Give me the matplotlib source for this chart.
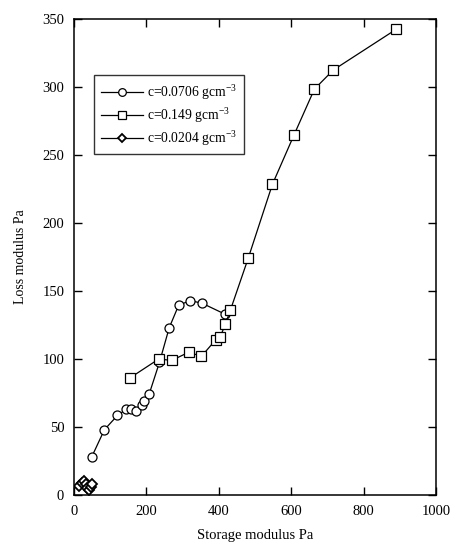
import matplotlib
matplotlib.use("Agg")
import matplotlib.pyplot as plt

plt.rcParams['font.family'] = ['Liberation Serif', 'DejaVu Serif']
plt.rcParams['mathtext.fontset'] = 'custom'
plt.rcParams['mathtext.rm'] = 'Liberation Serif'

# c = 0.0706 g/cm3
x_c1 = [49, 84, 120, 144, 158, 170, 187, 194, 208, 236, 263, 289, 321, 354, 417]
y_c1 = [28, 48, 58.5, 63, 63.5, 62, 66, 69.5, 74.5, 97.5, 123, 139.5, 143, 141, 133]

# c = 0.149 g/cm3
x_c2 = [154, 234, 270, 317, 352, 391, 404, 418, 432, 481, 548, 608, 664, 716, 890]
y_c2 = [86, 100, 99, 105, 102, 114, 116.5, 125.5, 136, 174, 228.5, 265, 298.5, 312.5, 342.5]

# c = 0.0204 g/cm3
x_c3 = [15, 22, 28, 33, 37, 41, 46, 49]
y_c3 = [7, 9, 10, 8, 5, 4, 6, 8]

labels = ['c=0.0706 gcm$^{-3}$', 'c=0.149 gcm$^{-3}$', 'c=0.0204 gcm$^{-3}$']

fig = plt.figure(figsize=(4.51, 5.44), dpi=100)
ax = fig.add_axes([0.164, 0.090, 0.803, 0.875])

ax.plot(x_c1, y_c1, '-o', color='black', lw=0.9, ms=6.5, mfc='white', mec='black', mew=0.9, label=labels[0])
ax.plot(x_c2, y_c2, '-s', color='black', lw=0.9, ms=6.5, mfc='white', mec='black', mew=0.9, label=labels[1])
ax.plot(x_c3, y_c3, '-D', color='black', lw=0.9, ms=5, mfc='white', mec='black', mew=1.3, label=labels[2])

ax.set_xlim(0, 1000)
ax.set_ylim(0, 350)
ax.set_xticks(range(0, 1001, 200))
ax.set_yticks(range(0, 351, 50))
ax.tick_params(direction='in', top=True, right=True, labelsize=10.5, length=5.5, width=1.0, pad=7)
for s in ax.spines.values():
    s.set_linewidth(1.1)
ax.set_xlabel('Storage modulus Pa', fontsize=10.5, labelpad=8)
ax.set_ylabel('Loss modulus Pa', fontsize=10, labelpad=11)

leg = ax.legend(loc='upper left', bbox_to_anchor=(0.055, 0.882), fontsize=9.8, handlelength=3.1,
                handletextpad=0.3, markerscale=0.85, frameon=True, fancybox=False,
                edgecolor='black', borderpad=0.5, labelspacing=0.25, borderaxespad=0)
leg.get_frame().set_linewidth(1.0)

fig.savefig('out.png', dpi=100)
